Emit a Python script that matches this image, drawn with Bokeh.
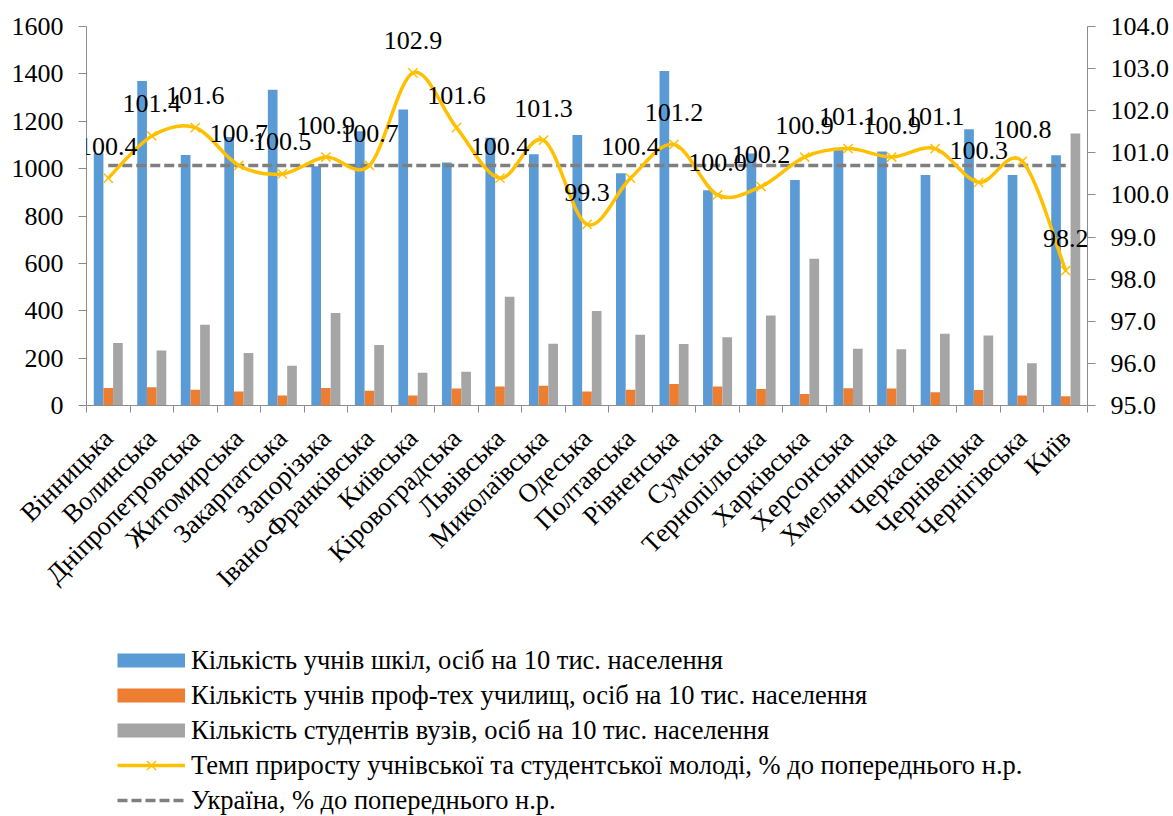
import numpy as np
from bokeh.plotting import figure
from bokeh.layouts import column
from bokeh.models import (Range1d, LinearAxis, FixedTicker, Legend, LegendItem,
                          NumeralTickFormatter, Label)
from bokeh.embed import file_html
from bokeh.resources import INLINE

regions = ["Вінницька", "Волинська", "Дніпропетровська", "Житомирська", "Закарпатська",
           "Запорізька", "Івано-Франківська", "Київська", "Кіровоградська", "Львівська",
           "Миколаївська", "Одеська", "Полтавська", "Рівненська", "Сумська",
           "Тернопільська", "Харківська", "Херсонська", "Хмельницька", "Черкаська",
           "Чернівецька", "Чернігівська", "Київ"]
schools = [1065, 1370, 1058, 1134, 1333, 1010, 1158, 1250, 1026, 1130, 1061, 1142,
           980, 1412, 909, 1064, 952, 1082, 1072, 973, 1166, 973, 1056]
vocational = [74, 77, 67, 59, 42, 74, 62, 42, 72, 80, 83, 59, 67, 91, 80, 70, 49, 73,
              72, 56, 65, 42, 39]
students = [264, 232, 341, 222, 168, 390, 255, 138, 143, 459, 261, 399, 299, 260, 288,
            380, 620, 240, 237, 303, 295, 178, 1148]
growth = [100.4, 101.4, 101.6, 100.7, 100.5, 100.9, 100.7, 102.9, 101.6, 100.4, 101.3,
          99.3, 100.4, 101.2, 100.0, 100.2, 100.9, 101.1, 100.9, 101.1, 100.3, 100.8, 98.2]
ukraine = 100.7
left_ticks = [0, 200, 400, 600, 800, 1000, 1200, 1400, 1600]
right_ticks = [95.0, 96.0, 97.0, 98.0, 99.0, 100.0, 101.0, 102.0, 103.0, 104.0]

series_names = ["Кількість учнів шкіл, осіб на 10 тис. населення",
                "Кількість учнів проф-тех училищ, осіб на 10 тис. населення",
                "Кількість студентів вузів, осіб на 10 тис. населення",
                "Темп приросту учнівської та студентської молоді, % до попереднього н.р.",
                "Україна, % до попереднього н.р."]

BLUE, ORANGE, GRAY, YELLOW, DASH = "#5B9BD5", "#ED7D31", "#A5A5A5", "#FFC000", "#7F7F7F"
AXIS = "#8C8C8C"
FONT = "'Liberation Serif', 'Times New Roman', serif"

n = len(regions)
x = np.arange(n, dtype=float)

W, H1, H2 = 1172, 630, 186
BL, BR = 86, 1172 - 1087

p = figure(width=W, height=H1, output_backend="svg", toolbar_location=None,
           x_range=Range1d(-0.5, n - 0.5), y_range=Range1d(0, 1600),
           min_border_left=BL, min_border_right=BR,
           min_border_top=26, min_border_bottom=H1 - 405)
p.outline_line_color = None
p.xgrid.visible = False
p.ygrid.visible = False

p.extra_y_ranges = {"pct": Range1d(95, 104)}

# bars
bw = 1.0 / 4.5
r_b = p.vbar(x=x - bw, top=schools, width=bw, fill_color=BLUE, line_color=None)
r_o = p.vbar(x=x, top=vocational, width=bw, fill_color=ORANGE, line_color=None)
r_g = p.vbar(x=x + bw, top=students, width=bw, fill_color=GRAY, line_color=None)

# Ukraine dashed line
r_u = p.line(x=x, y=[ukraine] * n, y_range_name="pct", line_color=DASH,
             line_width=3.5, line_dash="10 4")

# smoothed growth line (Catmull-Rom as cubic Bezier segments)
g = np.array(growth)
gp = np.r_[g[0], g, g[-1]]
xp = np.r_[x[0], x, x[-1]]
x0, y0 = x[:-1], g[:-1]
x1, y1 = x[1:], g[1:]
cx0 = x0 + (xp[2:-1] - xp[:-3]) / 6.0
cy0 = y0 + (gp[2:-1] - gp[:-3]) / 6.0
cx1 = x1 - (xp[3:] - xp[1:-2]) / 6.0
cy1 = y1 - (gp[3:] - gp[1:-2]) / 6.0
r_l = p.bezier(x0=x0, y0=y0, x1=x1, y1=y1, cx0=cx0, cy0=cy0, cx1=cx1, cy1=cy1,
               y_range_name="pct", line_color=YELLOW, line_width=3.5)
r_m = p.scatter(x=x, y=g, marker="x", size=13, line_color=YELLOW, line_width=1.5,
                y_range_name="pct")

# data labels (single-label annotations are not clipped at the frame edge)
for xi, gi in zip(x, growth):
    p.add_layout(Label(x=float(xi), y=float(gi), y_range_name="pct", text=f"{gi:.1f}",
                       text_align="center", text_baseline="middle", y_offset=32,
                       text_font=FONT, text_font_size="26px", text_color="black"))

# axes
xa = p.xaxis[0]
xa.ticker = FixedTicker(ticks=list(x), minor_ticks=list(np.arange(n + 1) - 0.5))
xa.major_label_overrides = {i: r for i, r in enumerate(regions)}
xa.major_label_orientation = np.pi / 4
xa.major_tick_in = 0
xa.major_tick_out = 0
xa.minor_tick_in = 0
xa.minor_tick_out = 7
xa.axis_line_color = AXIS
xa.minor_tick_line_color = AXIS
xa.major_label_standoff = 21
xa.major_label_text_font = FONT
xa.major_label_text_font_size = "26.5px"
xa.major_label_text_color = "black"

ya = p.yaxis[0]
ya.ticker = FixedTicker(ticks=left_ticks)
ya.major_tick_in = 0
ya.major_tick_out = 8
ya.minor_tick_line_color = None
ya.axis_line_color = AXIS
ya.major_tick_line_color = AXIS
ya.major_label_standoff = 15
ya.major_label_text_font = FONT
ya.major_label_text_font_size = "26px"
ya.major_label_text_color = "black"

ra = LinearAxis(y_range_name="pct", ticker=FixedTicker(ticks=right_ticks),
                formatter=NumeralTickFormatter(format="0.0"))
ra.major_tick_in = 0
ra.major_tick_out = 8
ra.minor_tick_line_color = None
ra.axis_line_color = AXIS
ra.major_tick_line_color = AXIS
ra.major_label_standoff = 15
ra.major_label_text_font = FONT
ra.major_label_text_font_size = "26px"
ra.major_label_text_color = "black"
p.add_layout(ra, "right")

# legend figure: keys styled like the marks above
q = figure(width=W, height=H2, output_backend="svg", toolbar_location=None,
           x_range=Range1d(0, 1), y_range=Range1d(0, 1),
           x_axis_location=None, y_axis_location=None,
           min_border_left=BL, min_border_right=BR, min_border_top=0, min_border_bottom=0)
q.outline_line_color = None
q.xgrid.visible = False
q.ygrid.visible = False
nan = [np.nan]
lb = q.line(x=nan, y=nan, line_color=BLUE, line_width=14)
lo = q.line(x=nan, y=nan, line_color=ORANGE, line_width=14)
lg = q.line(x=nan, y=nan, line_color=GRAY, line_width=14)
ll = q.line(x=nan, y=nan, line_color=YELLOW, line_width=3.5)
lm = q.scatter(x=nan, y=nan, marker="x", size=13, line_color=YELLOW, line_width=1.5)
lu = q.line(x=nan, y=nan, line_color=DASH, line_width=3.5, line_dash="10 4")

GH, SP = 32, 3
LH = 5 * GH + 4 * SP
legend = Legend(items=[
    LegendItem(label=series_names[0], renderers=[lb]),
    LegendItem(label=series_names[1], renderers=[lo]),
    LegendItem(label=series_names[2], renderers=[lg]),
    LegendItem(label=series_names[3], renderers=[ll, lm]),
    LegendItem(label=series_names[4], renderers=[lu]),
], location=(117 - BL, H2 - LH - 14), orientation="vertical")
legend.border_line_color = None
legend.background_fill_alpha = 0
legend.padding = 0
legend.margin = 0
legend.spacing = SP
legend.glyph_width = 68
legend.glyph_height = GH
legend.label_height = GH
legend.label_standoff = 6
legend.label_text_font = FONT
legend.label_text_font_size = "26.5px"
legend.label_text_color = "black"
q.add_layout(legend, "center")

layout = column(p, q, spacing=0)
open("out.html", "w").write(file_html(layout, INLINE))
